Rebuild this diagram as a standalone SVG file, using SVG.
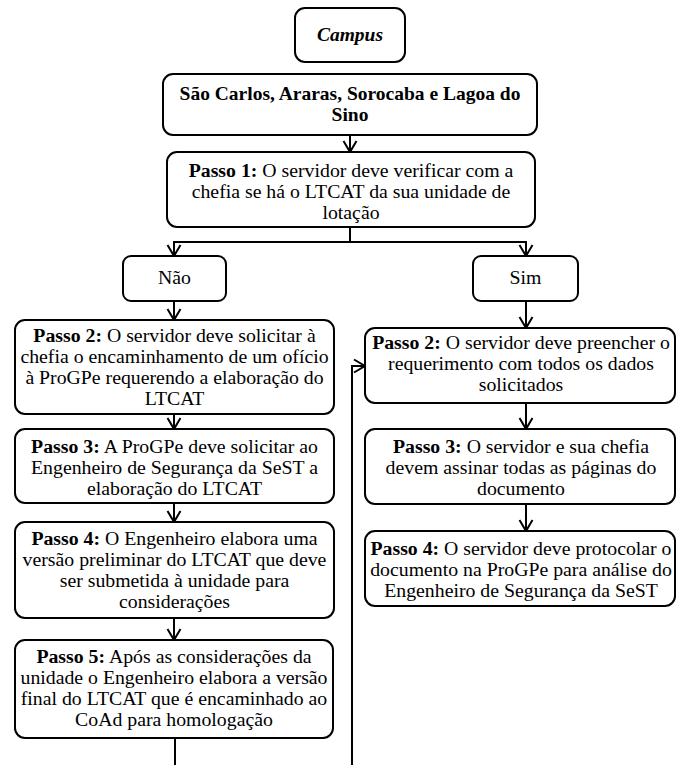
<svg xmlns="http://www.w3.org/2000/svg" width="677" height="765" viewBox="0 0 677 765">
<style>
.box{fill:#fff;stroke:#000;stroke-width:2}
.t{font-size:19.8px;fill:#000;text-anchor:middle}
.b{font-weight:bold}
.h{font-size:19.5px}
.con{fill:none;stroke:#000;stroke-width:2}
</style>
<defs>
<marker id="ah" viewBox="-14 -8 16 16" refX="0" refY="0" markerWidth="16" markerHeight="16" orient="auto" markerUnits="userSpaceOnUse">
<path d="M-11,-6.5 L0,0 L-11,6.5" fill="none" stroke="#000" stroke-width="2"/>
</marker>
</defs>
<rect width="677" height="765" fill="#fff"/>
<g id="connectors">
<path class="con" d="M350,135 V152" marker-end="url(#ah)"/>
<path class="con" d="M350,227 V242 H174 V256" marker-end="url(#ah)"/>
<path class="con" d="M350,242 H526 V256" marker-end="url(#ah)"/>
<path class="con" d="M174,301 V320" marker-end="url(#ah)"/>
<path class="con" d="M526,301 V328" marker-end="url(#ah)"/>
<path class="con" d="M174,414 V429" marker-end="url(#ah)"/>
<path class="con" d="M174,503 V522" marker-end="url(#ah)"/>
<path class="con" d="M174,618 V640" marker-end="url(#ah)"/>
<path class="con" d="M175,738 V765"/>
<path class="con" d="M352,765 V366 H365" marker-end="url(#ah)"/>
<path class="con" d="M526,403 V429" marker-end="url(#ah)"/>
<path class="con" d="M526,504 V531" marker-end="url(#ah)"/>
</g>
<g font-family="'Liberation Serif', 'Times New Roman', Tinos, 'DejaVu Serif', serif">
<g id="campus">
<rect class="box" x="295" y="8" width="110" height="54" rx="10"/>
<text class="t b h" x="350" y="41" font-style="italic">Campus</text>
</g>
<g id="locais">
<rect class="box" x="163" y="74" width="374" height="61" rx="10"/>
<text class="t b h" x="350" y="100">São Carlos, Araras, Sorocaba e Lagoa do</text>
<text class="t b h" x="350" y="121">Sino</text>
</g>
<g id="passo1">
<rect class="box" x="167" y="152" width="368" height="75" rx="10"/>
<text class="t" x="351" y="177"><tspan class="b">Passo 1:</tspan> O servidor deve verificar com a</text>
<text class="t" x="351" y="198">chefia se há o LTCAT da sua unidade de</text>
<text class="t" x="351" y="219">lotação</text>
</g>
<g id="nao">
<rect class="box" x="123" y="256" width="103" height="45" rx="8"/>
<text class="t" x="174.5" y="284">Não</text>
</g>
<g id="sim">
<rect class="box" x="473" y="256" width="105" height="45" rx="8"/>
<text class="t" x="525.5" y="284">Sim</text>
</g>
<g id="nao-passo2">
<rect class="box" x="15" y="320" width="319" height="94" rx="10"/>
<text class="t" x="174.5" y="342"><tspan class="b">Passo 2:</tspan> O servidor deve solicitar à</text>
<text class="t" x="174.5" y="363">chefia o encaminhamento de um ofício</text>
<text class="t" x="174.5" y="384">à ProGPe requerendo a elaboração do</text>
<text class="t" x="174.5" y="405">LTCAT</text>
</g>
<g id="nao-passo3">
<rect class="box" x="15" y="429" width="319" height="74" rx="10"/>
<text class="t" x="174.5" y="453"><tspan class="b">Passo 3:</tspan> A ProGPe deve solicitar ao</text>
<text class="t" x="174.5" y="474">Engenheiro de Segurança da SeST a</text>
<text class="t" x="174.5" y="495">elaboração do LTCAT</text>
</g>
<g id="nao-passo4">
<rect class="box" x="15" y="522" width="319" height="96" rx="10"/>
<text class="t" x="174.5" y="545"><tspan class="b">Passo 4:</tspan> O Engenheiro elabora uma</text>
<text class="t" x="174.5" y="566">versão preliminar do LTCAT que deve</text>
<text class="t" x="174.5" y="587">ser submetida à unidade para</text>
<text class="t" x="174.5" y="608">considerações</text>
</g>
<g id="nao-passo5">
<rect class="box" x="15" y="640" width="318" height="98" rx="10"/>
<text class="t" x="174" y="663"><tspan class="b">Passo 5:</tspan> Após as considerações da</text>
<text class="t" x="174" y="684">unidade o Engenheiro elabora a versão</text>
<text class="t" x="174" y="705">final do LTCAT que é encaminhado ao</text>
<text class="t" x="174" y="726">CoAd para homologação</text>
</g>
<g id="sim-passo2">
<rect class="box" x="365" y="328" width="310" height="75" rx="10"/>
<text class="t" x="521" y="349"><tspan class="b">Passo 2:</tspan> O servidor deve preencher o</text>
<text class="t" x="521" y="370">requerimento com todos os dados</text>
<text class="t" x="521" y="391">solicitados</text>
</g>
<g id="sim-passo3">
<rect class="box" x="365" y="429" width="310" height="75" rx="10"/>
<text class="t" x="521" y="453"><tspan class="b">Passo 3:</tspan> O servidor e sua chefia</text>
<text class="t" x="521" y="474">devem assinar todas as páginas do</text>
<text class="t" x="521" y="495">documento</text>
</g>
<g id="sim-passo4">
<rect class="box" x="365" y="531" width="310" height="75" rx="10"/>
<text class="t" x="521" y="555"><tspan class="b">Passo 4:</tspan> O servidor deve protocolar o</text>
<text class="t" x="521" y="576">documento na ProGPe para análise do</text>
<text class="t" x="521" y="597">Engenheiro de Segurança da SeST</text>
</g>
</g>
</svg>
